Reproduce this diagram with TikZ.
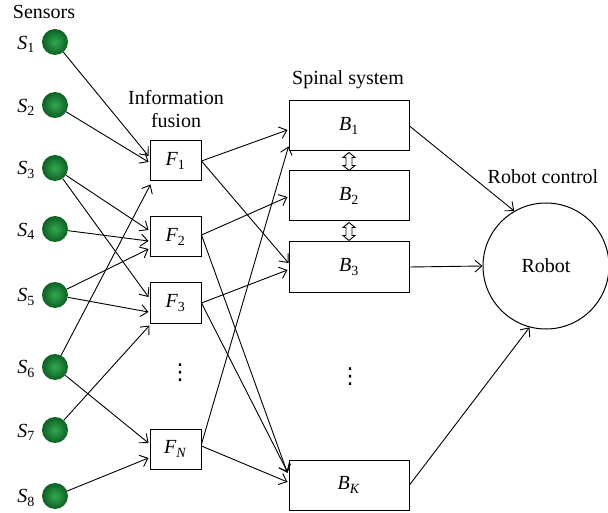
\documentclass[tikz,border=0pt]{standalone}
\usepackage{fontspec}
\setmainfont{Liberation Serif}
\newfontfamily\dotfont{DejaVu Sans}
\usetikzlibrary{arrows.meta,calc}
\newcommand\msym[2]{\textit{#1}\textsubscript{#2}}
\begin{document}
\begin{tikzpicture}[x=1pt,y=-1pt,
  font=\fontsize{20}{23}\selectfont,
  sensor/.style={circle, minimum size=26pt, inner sep=0pt, shade,
    inner color={rgb,255:red,50;green,170;blue,80},
    outer color={rgb,255:red,12;green,95;blue,35}},
  fbox/.style={draw, line width=1pt, minimum width=51pt, minimum height=40pt, inner sep=0pt},
  bbox/.style={draw, line width=1pt, minimum width=120pt, minimum height=50pt, inner sep=0pt},
  arr/.style={-{Straight Barb[length=7pt,width=12pt]}, line width=0.9pt},
  dblarrow/.style={draw, line width=0.9pt, fill=white, line join=miter},
  lbl/.style={inner sep=1pt},
  vdot/.style={inner sep=0pt, font=\dotfont\fontsize{22}{24}\selectfont}
]
\useasboundingbox (0,0) rectangle (608,513);

% titles
\node[lbl] (tsens) at (44,12) {Sensors};
\node[lbl] (tinfo1) at (176,98) {Information};
\node[lbl] (tinfo2) at (176,121) {fusion};
\node[lbl] (tspin) at (348,80) {Spinal system};
\node[lbl] (trob) at (543,177) {Robot control};

% sensors
\node[sensor] (s1) at (55,42) {};
\node[sensor] (s2) at (55,105) {};
\node[sensor] (s3) at (55,168) {};
\node[sensor] (s4) at (55,229) {};
\node[sensor] (s5) at (55,295) {};
\node[sensor] (s6) at (55,367) {};
\node[sensor] (s7) at (55,430) {};
\node[sensor] (s8) at (55,496) {};
\node[lbl] (l1) at (26,44) {\msym{S}{1}};
\node[lbl] (l2) at (26,107) {\msym{S}{2}};
\node[lbl] (l3) at (26,170) {\msym{S}{3}};
\node[lbl] (l4) at (26,231) {\msym{S}{4}};
\node[lbl] (l5) at (26,297) {\msym{S}{5}};
\node[lbl] (l6) at (26,369) {\msym{S}{6}};
\node[lbl] (l7) at (26,432) {\msym{S}{7}};
\node[lbl] (l8) at (26,498) {\msym{S}{8}};

% fusion boxes
\node[fbox] (F1) at (175.5,161) {\msym{F}{1}};
\node[fbox] (F2) at (175.5,237) {\msym{F}{2}};
\node[fbox] (F3) at (175.5,303) {\msym{F}{3}};
\node[fbox] (FN) at (175.5,449) {\msym{F}{\textit{N}}};
\node[vdot] (fdots) at (180,373) {⋮};

% spinal boxes
\node[bbox] (B1) at (349,126) {\msym{B}{1}};
\node[bbox] (B2) at (349,196) {\msym{B}{2}};
\node[bbox] (B3) at (349,267) {\msym{B}{3}};
\node[bbox] (BK) at (349,485) {\msym{B}{\textit{K}}};
\node[vdot] (bdots) at (350,377) {⋮};

% robot
\node[circle, draw, line width=1pt, minimum size=126pt, inner sep=0pt] (robot) at (546,266) {Robot};

% double arrows between spinal boxes
\draw[dblarrow] (B1.south) ++(0,1) -- ++(6,5) -- ++(-3,0) -- ++(0,8) -- ++(3,0) -- ++(-6,5)
  -- ++(-6,-5) -- ++(3,0) -- ++(0,-8) -- ++(-3,0) -- cycle;
\draw[dblarrow] (B2.south) ++(0,1) -- ++(6,5) -- ++(-3,0) -- ++(0,8) -- ++(3,0) -- ++(-6,5)
  -- ++(-6,-5) -- ++(3,0) -- ++(0,-8) -- ++(-3,0) -- cycle;

% sensors -> fusion
\draw[arr] (s1) -- ($(F1.west)+(-1,-5)$);
\draw[arr] (s2) -- ($(F1.west)+(-1,1)$);
\draw[arr] (s3) -- ($(F2.west)+(-1,-7)$);
\draw[arr] (s3) -- ($(F3.west)+(-1,-6)$);
\draw[arr] (s4) -- ($(F2.west)+(-1,4)$);
\draw[arr] (s5) -- ($(F2.west)+(-1,12)$);
\draw[arr] (s5) -- ($(F3.west)+(-1,9)$);
\draw[arr] (s6) -- ($(F1.south west)+(1,3)$);
\draw[arr] (s6) -- ($(FN.west)+(-1,-6)$);
\draw[arr] (s7) -- ($(F3.south west)+(0,2)$);
\draw[arr] (s8) -- ($(FN.west)+(-1,9)$);

% fusion -> spinal
\draw[arr] (F1.east) -- ($(B1.west)+(-1,4)$);
\draw[arr] (F1.east) -- ($(B3.west)+(0,-4)$);
\draw[arr] ($(F2.east)+(0,-2)$) -- ($(B2.west)+(-1,1)$);
\draw[arr] ($(F2.east)+(0,-2)$) -- ($(BK.west)+(-1,-12)$);
\draw[arr] (F3.east) -- ($(B3.west)+(-1,3)$);
\draw[arr] (F3.east) -- ($(BK.west)+(-1,-13)$);
\draw[arr] ($(FN.east)+(0,-5)$) -- ($(B1.south west)+(0,-5)$);
\draw[arr] ($(FN.east)+(0,-3)$) -- ($(BK.west)+(-1,-3)$);

% spinal -> robot
\draw[arr] (B1.east) -- (robot.120);
\draw[arr] (B3.east) -- (robot.west);
\draw[arr] (BK.east) -- (robot.255);
\end{tikzpicture}
\end{document}
